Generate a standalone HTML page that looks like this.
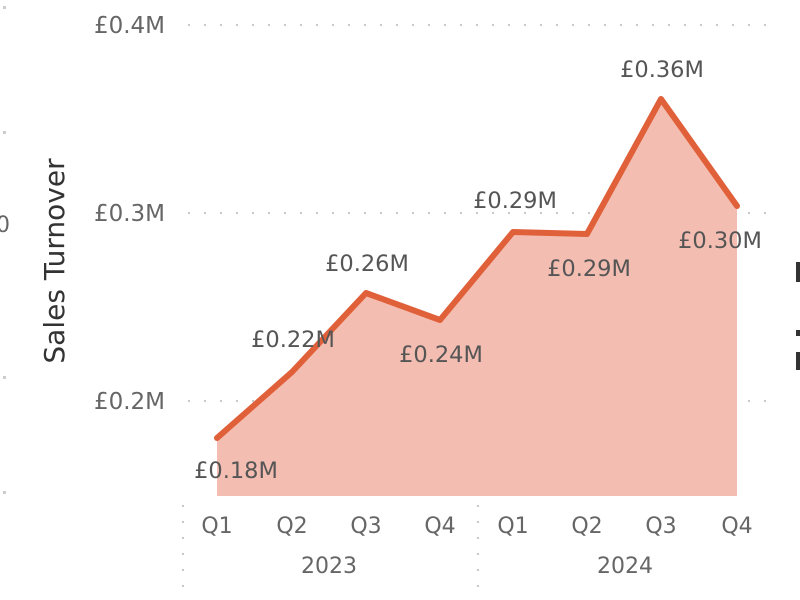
<!DOCTYPE html>
<html><head><meta charset="utf-8"><style>
html,body{margin:0;padding:0;background:#fff;width:800px;height:600px;overflow:hidden}
svg text{font-family:"DejaVu Sans","Liberation Sans",sans-serif}
</style></head><body>
<svg width="800" height="600" viewBox="0 0 800 600" xmlns="http://www.w3.org/2000/svg">
<g stroke="#c8c8c8" stroke-width="2" stroke-dasharray="2,14" fill="none">
<line x1="188" y1="25" x2="768" y2="25"/>
<line x1="188" y1="213" x2="768" y2="213"/>
<line x1="188" y1="401" x2="768" y2="401"/>
<line x1="183" y1="505" x2="183" y2="595"/>
<line x1="478" y1="505" x2="478" y2="595"/>
</g>
<g fill="#ccc">
<rect x="3" y="6" width="3" height="3"/>
<rect x="3" y="131" width="3" height="3"/>
<rect x="3" y="376" width="3" height="3"/>
<rect x="3" y="491" width="3" height="3"/>
</g>
<text x="-4" y="232" font-size="22" fill="#666">0</text>
<rect x="796" y="262" width="4" height="20" fill="#333"/>
<rect x="796" y="330" width="4" height="6" fill="#333"/>
<rect x="796" y="352" width="4" height="18" fill="#333"/>
<g font-size="23" fill="#666" text-anchor="end">
<text x="165" y="33">£0.4M</text>
<text x="165" y="221">£0.3M</text>
<text x="165" y="409">£0.2M</text>
</g>
<text transform="translate(64,261) rotate(-90)" font-size="28" fill="#333" text-anchor="middle">Sales Turnover</text>
<polygon points="217,438 292,372 366,293 440,320 513,232 587,234 661,99 737,206 737,496 217,496" fill="#F3BEB1"/>
<polyline points="217,438 292,372 366,293 440,320 513,232 587,234 661,99 737,206" fill="none" stroke="#E0603A" stroke-width="6" stroke-linejoin="round" stroke-linecap="round"/>
<g font-size="22.5" fill="#555" text-anchor="middle">
<text x="236" y="478">£0.18M</text>
<text x="293" y="347">£0.22M</text>
<text x="367" y="271">£0.26M</text>
<text x="441" y="362">£0.24M</text>
<text x="515" y="208">£0.29M</text>
<text x="589" y="276">£0.29M</text>
<text x="662" y="77">£0.36M</text>
<text x="720" y="248">£0.30M</text>
</g>
<g font-size="22" fill="#666" text-anchor="middle">
<text x="217" y="533">Q1</text>
<text x="292" y="533">Q2</text>
<text x="366" y="533">Q3</text>
<text x="440" y="533">Q4</text>
<text x="513" y="533">Q1</text>
<text x="587" y="533">Q2</text>
<text x="661" y="533">Q3</text>
<text x="737" y="533">Q4</text>
<text x="329" y="573">2023</text>
<text x="625" y="573">2024</text>
</g>
</svg>
</body></html>
